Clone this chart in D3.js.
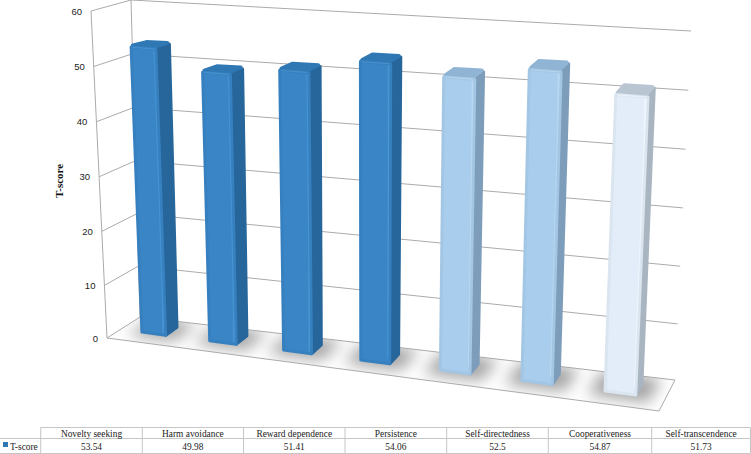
<!DOCTYPE html>
<html>
<head>
<meta charset="utf-8">
<script src="https://cdnjs.cloudflare.com/ajax/libs/d3/7.8.5/d3.min.js"></script>
<style>
  html, body { margin: 0; padding: 0; background: #fff; }
  svg { display: block; }
</style>
</head>
<body>
<svg id="chart" width="751" height="454"></svg>
<script>
// Chart data
const categories = ["Novelty seeking", "Harm avoidance", "Reward dependence", "Persistence",
    "Self-directedness", "Cooperativeness", "Self-transcendence"];
const tScores = [53.54, 49.98, 51.41, 54.06, 52.5, 54.87, 51.73];
const valueTicks = [0, 10, 20, 30, 40, 50, 60];
const seriesName = "T-score";

// Bar colours: front, side, top, highlight
const frontColors = ["#3985c6", "#3985c6", "#3985c6", "#3985c6", "#a9cdec", "#a9cdec", "#e2edf9"];
const sideColors = ["#27669b", "#27669b", "#27669b", "#27669b", "#7d9dba", "#7d9dba", "#a9b5c1"];
const topColors = ["#2f78b4", "#2f78b4", "#2f78b4", "#2f78b4", "#8fb4d4", "#8fb4d4", "#b9c6d2"];
const edgeColors = ["#4d97d4", "#4d97d4", "#4d97d4", "#4d97d4", "#bcd9f1", "#bcd9f1", "#f2f7fd"];

const width = 751, height = 454;
const svg = d3.select("#chart");

// Corners of the 3D box as seen in the picture
const box = {
    fl0: [107, 338], fr0: [659, 411], bl0: [140, 317], br0: [675, 380],
    fl1: [91, 11], fr1: [675, 56], bl1: [131, 0], br1: [691, 31]
};

const lerp = (a, b, t) => [a[0] + (b[0] - a[0]) * t, a[1] + (b[1] - a[1]) * t];

// u: along the categories, w: depth (0 front, 1 back), v: height fraction
function project(u, w, v) {
    const floor = lerp(lerp(box.fl0, box.fr0, u), lerp(box.bl0, box.br0, u), w);
    const roof = lerp(lerp(box.fl1, box.fr1, u), lerp(box.bl1, box.br1, u), w);
    return lerp(floor, roof, v);
}

// Scales
const xBand = d3.scaleBand().domain(categories).range([0, 1]).paddingInner(0.63).paddingOuter(0.315);
const xPersp = d3.scalePow().exponent(1.1).domain([0, 1]).range([0.01, 0.996]); // perspective squeeze
const yScale = d3.scalePow().exponent(1.02).domain([0, 60]).range([0, 1]);
const depthFront = 0.35, depthBack = 0.71;
const barTopFactor = 0.996;

const poly = pts => "M" + pts.map(p => p[0].toFixed(1) + "," + p[1].toFixed(1)).join("L") + "Z";
const line = (a, b) => "M" + a[0] + "," + a[1] + "L" + b[0] + "," + b[1];

// Pull a polygon's points towards its centre so a thick round stroke rounds its corners
function inset(pts, amount) {
    const c = [d3.mean(pts, p => p[0]), d3.mean(pts, p => p[1])];
    return pts.map(p => {
        const len = Math.hypot(p[0] - c[0], p[1] - c[1]);
        return lerp(p, c, amount / len);
    });
}

// Defs: blur for floor shadows, floor clip, bar gradients
const defs = svg.append("defs");
defs.append("filter").attr("id", "blur")
    .attr("x", "-80%").attr("y", "-120%").attr("width", "260%").attr("height", "340%")
    .append("feGaussianBlur").attr("stdDeviation", 7.5);
defs.append("clipPath").attr("id", "floorClip").append("path")
    .attr("d", poly([box.fl0, box.fr0, box.br0, box.bl0]));

categories.forEach((c, i) => {
    const g = defs.append("linearGradient").attr("id", "front" + i);
    const dark = d3.color(frontColors[i]).darker(0.2);
    g.append("stop").attr("offset", "0").attr("stop-color", dark);
    g.append("stop").attr("offset", "0.06").attr("stop-color", frontColors[i]);
    g.append("stop").attr("offset", "0.88").attr("stop-color", frontColors[i]);
    g.append("stop").attr("offset", "0.95").attr("stop-color", edgeColors[i]);
    g.append("stop").attr("offset", "1").attr("stop-color", frontColors[i]);
});

const gridColor = "#ababab";

// Walls and floor lines
const grid = svg.append("g").attr("fill", "none").attr("stroke", gridColor).attr("stroke-width", 1);
valueTicks.forEach(t => {
    const v = yScale(t);
    grid.append("path").attr("d", line(project(0, 0, v), project(0, 1, v)));
    grid.append("path").attr("d", line(project(0, 1, v), project(1, 1, v)));
});
grid.append("path").attr("d", line(box.fl0, box.fl1));
grid.append("path").attr("d", line(box.bl0, box.bl1));
grid.append("path").attr("d", line(box.fl0, box.fr0));
grid.append("path").attr("d", line(box.fr0, box.br0));

// Value labels next to the front left edge
svg.append("g").selectAll("text").data(valueTicks).join("text")
    .attr("x", d => project(0, 0, yScale(d))[0] - 9)
    .attr("y", d => project(0, 0, yScale(d))[1] + 3.5)
    .attr("text-anchor", "end")
    .attr("font-family", "'Liberation Sans', sans-serif")
    .attr("font-size", 9.5)
    .attr("fill", "#222")
    .text(d => d);

// Axis title
svg.append("text")
    .attr("transform", "translate(63,181) rotate(-90)")
    .attr("text-anchor", "middle")
    .attr("font-family", "'Liberation Serif', serif")
    .attr("font-weight", "bold")
    .attr("font-size", 11)
    .attr("fill", "#111")
    .text(seriesName);

// Floor shadows
const shadows = svg.append("g").attr("clip-path", "url(#floorClip)");
categories.forEach(c => {
    const u0 = xPersp(xBand(c) - 0.025), u1 = xPersp(xBand(c) + xBand.bandwidth() + 0.025);
    shadows.append("path")
        .attr("d", poly([project(u0, 0.22, 0), project(u1, 0.22, 0), project(u1, 1, 0), project(u0, 1, 0)]))
        .attr("fill", "#a2a2a2")
        .attr("filter", "url(#blur)");
});

// Bars
const bars = svg.append("g");
categories.forEach((c, i) => {
    const u0 = xPersp(xBand(c)), u1 = xPersp(xBand(c) + xBand.bandwidth());
    const v = yScale(tScores[i]) * barTopFactor;
    const a = project(u0, depthFront, 0), b = project(u1, depthFront, 0);
    const d = project(u0, depthFront, v), e = project(u1, depthFront, v);
    const f = project(u1, depthBack, 0), g = project(u1, depthBack, v), h = project(u0, depthBack, v);

    const bar = bars.append("g").attr("stroke-linejoin", "round");
    bar.append("path").attr("d", poly(inset([b, f, g, e], 1.5)))
        .attr("fill", sideColors[i]).attr("stroke", sideColors[i]).attr("stroke-width", 3);
    bar.append("path").attr("d", poly(inset([d, e, g, h], 2)))
        .attr("fill", topColors[i]).attr("stroke", topColors[i]).attr("stroke-width", 4);
    bar.append("path").attr("d", poly(inset([a, b, e, d], 1.5)))
        .attr("fill", "url(#front" + i + ")")
        .attr("stroke", d3.color(frontColors[i]).darker(0.1)).attr("stroke-width", 3);
    // light bevel along the top of the front face
    bar.append("path").attr("d", line(lerp(d, e, 0.06), lerp(e, d, 0.06)))
        .attr("transform", "translate(0,1.5)")
        .attr("stroke", edgeColors[i]).attr("stroke-width", 1.2).attr("stroke-opacity", 0.7).attr("fill", "none");
    // and down its right side
    bar.append("path").attr("d", line(lerp(e, b, 0.01), lerp(b, e, 0.03)))
        .attr("transform", "translate(-2,0)")
        .attr("stroke", edgeColors[i]).attr("stroke-width", 1.2).attr("stroke-opacity", 0.7).attr("fill", "none");
});

// Data table underneath
const colEdges = [40.7, 142.3, 243.5, 345, 446.7, 548.3, 651.7, 750.5];
const rowTop = 427.5, rowMid = 438.5, rowBottom = 453.5;
const tableColor = "#c6c6c6";
const table = svg.append("g").attr("stroke", tableColor).attr("fill", "none");
table.append("path").attr("d", line([colEdges[0], rowTop], [750.5, rowTop]));
table.append("path").attr("d", line([0, rowMid], [750.5, rowMid]));
table.append("path").attr("d", line([0, rowBottom], [750.5, rowBottom]));
colEdges.forEach(x => table.append("path").attr("d", line([x, rowTop], [x, rowBottom])));

const cellText = svg.append("g")
    .attr("font-family", "'Liberation Serif', serif")
    .attr("font-size", 9.4)
    .attr("fill", "#222")
    .attr("text-anchor", "middle");
categories.forEach((c, i) => {
    const cx = (colEdges[i] + colEdges[i + 1]) / 2;
    cellText.append("text").attr("x", cx).attr("y", 436.5).text(c);
    cellText.append("text").attr("x", cx).attr("y", 450).text(tScores[i]);
});

// Legend key in the first column
svg.append("rect").attr("x", 3).attr("y", 442).attr("width", 5).attr("height", 5)
    .attr("fill", "#2f78b4");
svg.append("text").attr("x", 10).attr("y", 450)
    .attr("font-family", "'Liberation Serif', serif")
    .attr("font-size", 9.4)
    .attr("fill", "#222")
    .text(seriesName);
</script>
</body>
</html>
